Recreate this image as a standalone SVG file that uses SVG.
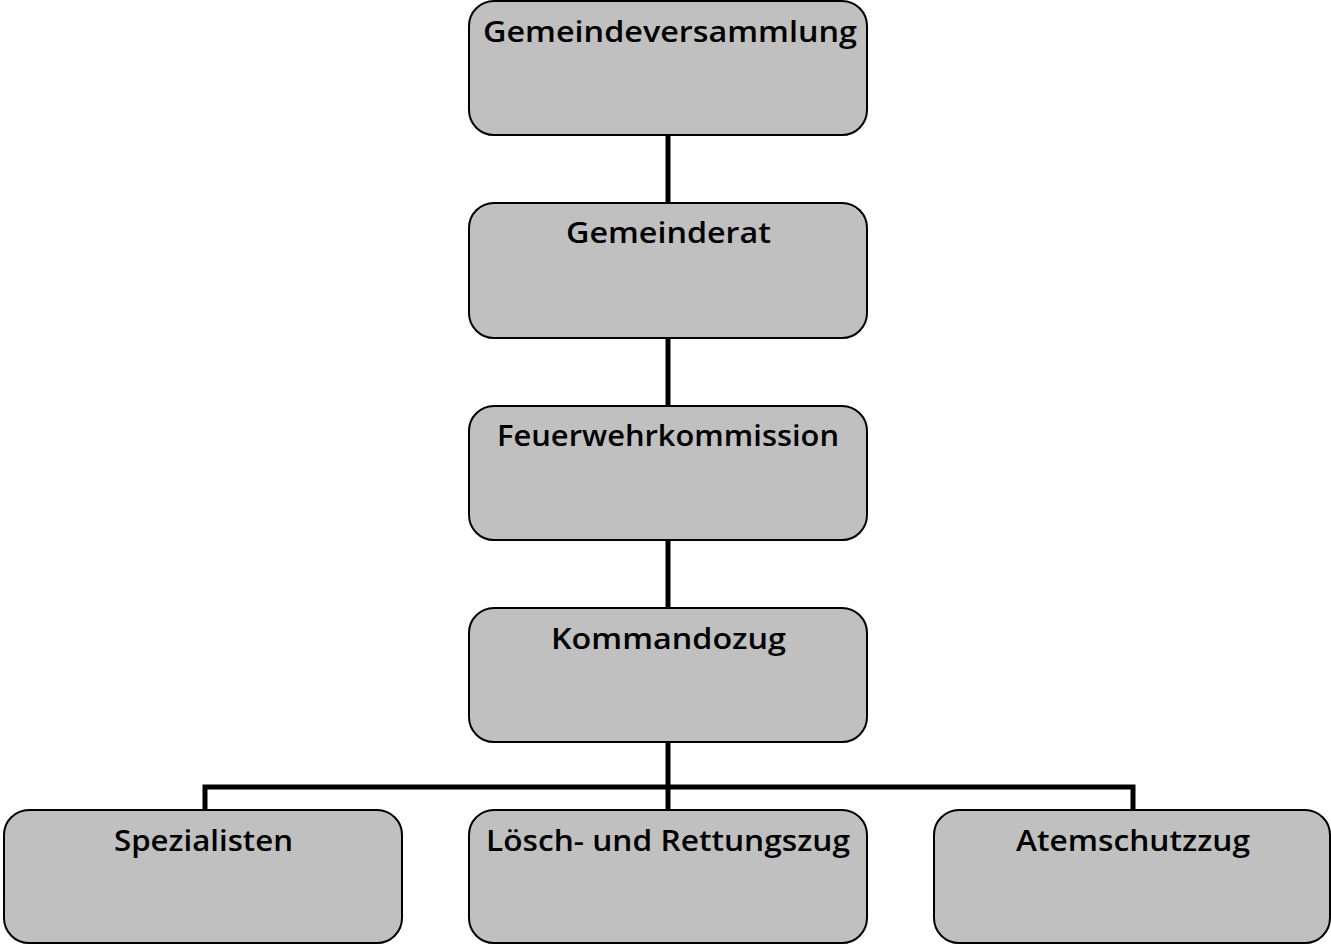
<svg xmlns="http://www.w3.org/2000/svg" width="1331" height="944" viewBox="0 0 1331 944">
<style>
.box{fill:#c0c0c0;stroke:#000;stroke-width:2}
.lbl{font-family:"Open Sans","Liberation Sans",sans-serif;font-weight:600;font-size:29px;fill:#000;text-anchor:middle}
.con{fill:none;stroke:#000;stroke-width:5}
</style>
<rect width="1331" height="944" fill="#fff"/>
<g id="connectors">
<line class="con" x1="668" y1="135" x2="668" y2="203"/>
<line class="con" x1="668" y1="338" x2="668" y2="406"/>
<line class="con" x1="668" y1="540" x2="668" y2="608"/>
<line class="con" x1="668" y1="742" x2="668" y2="810"/>
<polyline class="con" points="205,810 205,787 1133,787 1133,810"/>
</g>
<g id="n1"><rect class="box" x="469" y="1" width="398" height="134" rx="25"/><text class="lbl" x="670" y="42" textLength="374" lengthAdjust="spacingAndGlyphs">Gemeindeversammlung</text></g>
<g id="n2"><rect class="box" x="469" y="203" width="398" height="135" rx="25"/><text class="lbl" x="668.5" y="243" textLength="205" lengthAdjust="spacingAndGlyphs">Gemeinderat</text></g>
<g id="n3"><rect class="box" x="469" y="406" width="398" height="134" rx="25"/><text class="lbl" x="668" y="446" textLength="342" lengthAdjust="spacingAndGlyphs">Feuerwehrkommission</text></g>
<g id="n4"><rect class="box" x="469" y="608" width="398" height="134" rx="25"/><text class="lbl" x="668.5" y="649" textLength="235" lengthAdjust="spacingAndGlyphs">Kommandozug</text></g>
<g id="n5"><rect class="box" x="4" y="810" width="398" height="133" rx="25"/><text class="lbl" x="203.5" y="851" textLength="179" lengthAdjust="spacingAndGlyphs">Spezialisten</text></g>
<g id="n6"><rect class="box" x="469" y="810" width="398" height="133" rx="25"/><text class="lbl" x="668" y="851" textLength="364" lengthAdjust="spacingAndGlyphs">Lösch- und Rettungszug</text></g>
<g id="n7"><rect class="box" x="934" y="810" width="396" height="133" rx="25"/><text class="lbl" x="1133" y="851" textLength="234" lengthAdjust="spacingAndGlyphs">Atemschutzzug</text></g>
</svg>
